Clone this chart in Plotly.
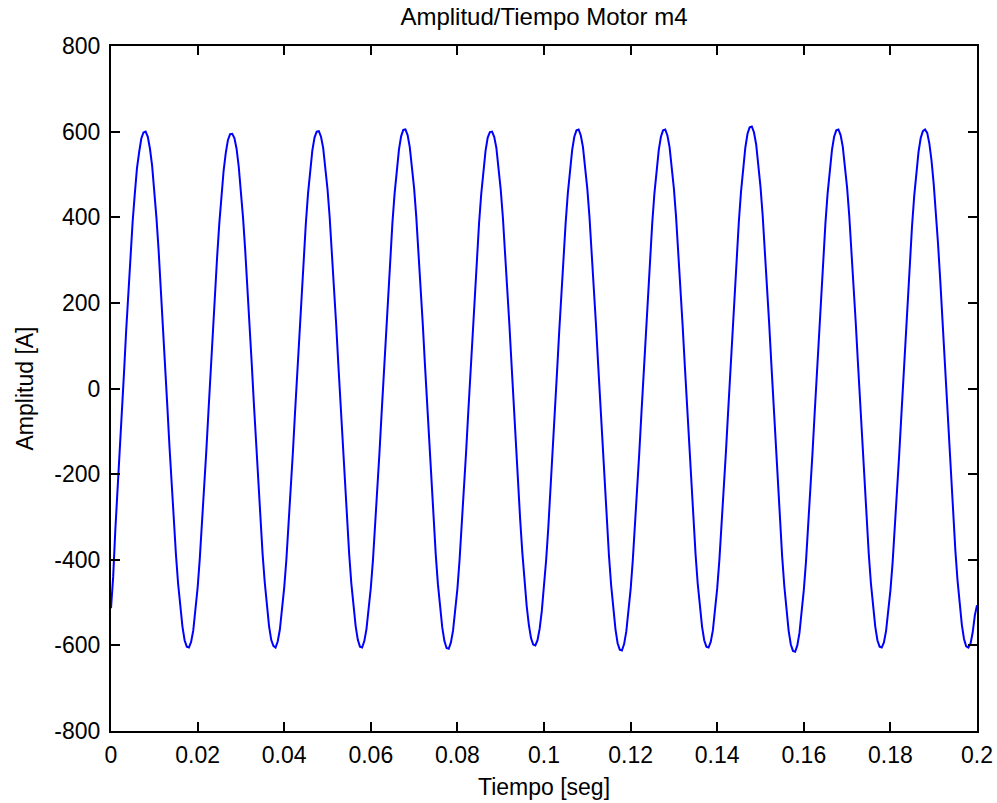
import plotly.graph_objects as go

dt = 0.0005
amplitude = [
    -513, -440, -330, -245, -152, -60, 36, 135, 225, 305, 390, 455, 515, 552, 584, 598, 600, 588, 560, 520,
    465, 398, 322, 238, 148, 55, -40, -135, -225, -310, -388, -456, -512, -556, -588, -603, -605, -592, -565, -522,
    -466, -398, -322, -238, -148, -55, 40, 134, 222, 306, 384, 452, 508, 550, 580, 594, 595, 585, 560, 518,
    463, 398, 322, 240, 150, 58, -36, -130, -222, -308, -385, -452, -510, -555, -587, -601, -605, -591, -563, -520,
    -465, -400, -325, -240, -150, -56, 38, 132, 224, 308, 386, 455, 512, 556, 586, 600, 601, 588, 562, 520,
    466, 400, 324, 241, 150, 56, -38, -133, -224, -308, -386, -455, -512, -555, -587, -603, -605, -590, -562, -520,
    -466, -401, -324, -240, -150, -57, 38, 132, 224, 309, 388, 456, 513, 558, 589, 604, 605, 592, 564, 522,
    468, 401, 325, 241, 151, 57, -38, -132, -224, -309, -388, -457, -514, -558, -590, -606, -608, -593, -565, -523,
    -468, -400, -323, -240, -150, -57, 38, 132, 223, 308, 386, 454, 511, 555, 586, 599, 600, 588, 562, 520,
    465, 400, 324, 240, 150, 57, -38, -132, -223, -307, -384, -452, -508, -552, -583, -598, -600, -588, -561, -519,
    -465, -400, -324, -240, -150, -57, 37, 131, 223, 308, 387, 456, 513, 557, 588, 603, 605, 591, 564, 522,
    467, 401, 325, 241, 150, 57, -38, -133, -225, -311, -390, -459, -517, -562, -595, -610, -612, -597, -568, -525,
    -470, -402, -325, -241, -151, -58, 37, 131, 223, 308, 387, 456, 513, 557, 588, 603, 605, 591, 564, 522,
    467, 401, 324, 240, 150, 57, -38, -133, -224, -309, -387, -456, -512, -556, -588, -603, -605, -592, -565, -522,
    -467, -401, -325, -241, -151, -58, 37, 132, 225, 311, 390, 460, 518, 563, 595, 610, 612, 598, 570, 527,
    471, 404, 327, 243, 152, 58, -38, -134, -226, -313, -392, -462, -520, -566, -598, -613, -615, -600, -571, -527,
    -471, -405, -328, -243, -152, -59, 36, 130, 222, 308, 387, 456, 513, 557, 588, 603, 605, 592, 565, 524,
    469, 403, 327, 243, 153, 60, -35, -130, -222, -307, -386, -455, -512, -556, -588, -603, -605, -593, -566, -525,
    -472, -408, -333, -250, -160, -68, 27, 122, 214, 300, 380, 450, 508, 553, 585, 601, 605, 597, 572, 532,
    478, 414, 338, 255, 165, 72, -24, -120, -212, -298, -378, -448, -506, -552, -585, -602, -605, -596, -570, -530,
    -506,
]
time = [round(i * dt, 4) for i in range(len(amplitude))]

x_tickvals = [0, 0.02, 0.04, 0.06, 0.08, 0.1, 0.12, 0.14, 0.16, 0.18, 0.2]
x_ticktext = ["0", "0.02", "0.04", "0.06", "0.08", "0.1", "0.12", "0.14", "0.16", "0.18", "0.2"]
y_tickvals = [-800, -600, -400, -200, 0, 200, 400, 600, 800]
y_ticktext = ["-800", "-600", "-400", "-200", "0", "200", "400", "600", "800"]

FONT = "Liberation Sans, Arial"

fig = go.Figure()
fig.add_trace(go.Scatter(x=time, y=amplitude, mode="lines",
                         line=dict(color="#0000ff", width=2), showlegend=False))

axis_common = dict(showline=True, linecolor="black", linewidth=2, mirror="ticks",
                   ticks="inside", ticklen=9, tickwidth=2, tickcolor="black",
                   showgrid=False, zeroline=False, automargin=False,
                   tickfont=dict(family=FONT, size=23, color="black"))

fig.update_layout(
    width=997, height=803,
    margin=dict(l=111, r=20, t=46, b=72),
    paper_bgcolor="white", plot_bgcolor="white",
    title=dict(text="Amplitud/Tiempo Motor m4", x=0.5, xref="paper", xanchor="center",
               y=0.979, yref="container", yanchor="middle", automargin=False,
               font=dict(family=FONT, size=24, color="black")),
    xaxis=dict(range=[0, 0.2], tickvals=x_tickvals, ticktext=x_ticktext,
               ticklabelstandoff=2,
               title=dict(text="Tiempo [seg]", standoff=12,
                          font=dict(family=FONT, size=23, color="black")),
               **axis_common),
    yaxis=dict(range=[-800, 800], tickvals=y_tickvals, ticktext=y_ticktext,
               ticklabelstandoff=4,
               title=dict(text="Amplitud [A]", standoff=14,
                          font=dict(family=FONT, size=23, color="black")),
               **axis_common),
)

fig.write_html("out.html", config={"displayModeBar": False},
               post_script="document.body.style.margin='0px';")
